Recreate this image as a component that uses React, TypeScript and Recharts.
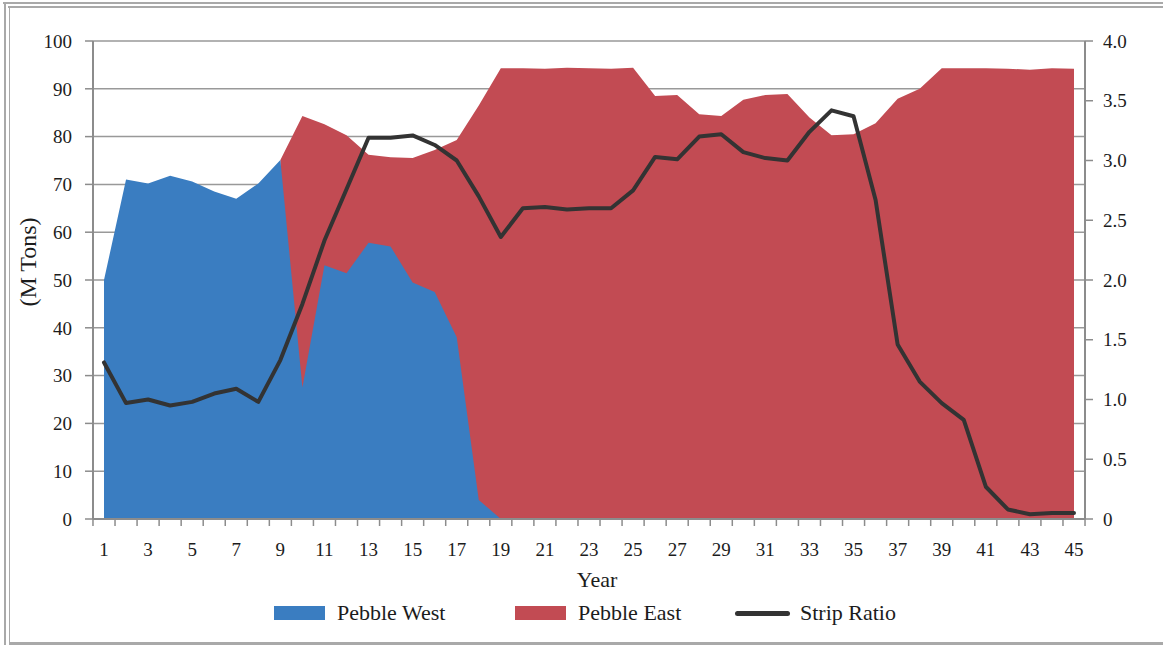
import React from 'react';
import { ComposedChart, Area, Line, XAxis, YAxis, CartesianGrid } from 'recharts';

// Mine plan by year: tonnage per pit (left axis) and strip ratio (right axis)
const years = [
  1, 2, 3, 4, 5, 6, 7, 8, 9, 10, 11, 12, 13, 14, 15, 16, 17, 18, 19, 20, 21, 22, 23,
  24, 25, 26, 27, 28, 29, 30, 31, 32, 33, 34, 35, 36, 37, 38, 39, 40, 41, 42, 43, 44, 45,
];

const pebbleWest = [
  50, 71, 70.2, 71.8, 70.6, 68.5, 67, 70.2, 75.1, 27.5, 53.1, 51.4, 57.8, 57, 49.5, 47.5,
  38, 4, 0, null, null, null, null, null, null, null, null, null, null, null, null, null,
  null, null, null, null, null, null, null, null, null, null, null, null, null,
];

// top edge of the red area
const pebbleEast = [
  null, null, null, null, null, null, null, null, 75.1, 84.3, 82.6, 80.3, 76.2, 75.7,
  75.5, 77.2, 79.3, 86.5, 94.3, 94.3, 94.2, 94.4, 94.3, 94.2, 94.4, 88.5, 88.7, 84.7,
  84.3, 87.7, 88.7, 88.9, 84, 80.3, 80.5, 82.8, 87.9, 90, 94.3, 94.3, 94.3, 94.2, 94,
  94.3, 94.2,
];

const stripRatio = [
  1.31, 0.97, 1.0, 0.95, 0.98, 1.05, 1.09, 0.98, 1.33, 1.8, 2.33, 2.76, 3.19, 3.19, 3.21,
  3.13, 3.0, 2.7, 2.36, 2.6, 2.61, 2.59, 2.6, 2.6, 2.75, 3.03, 3.01, 3.2, 3.22, 3.07,
  3.02, 3.0, 3.24, 3.42, 3.37, 2.67, 1.46, 1.15, 0.97, 0.83, 0.27, 0.08, 0.04, 0.05, 0.05,
];

const tonTicks = [0, 10, 20, 30, 40, 50, 60, 70, 80, 90, 100];
const ratioTicks = [0, 0.5, 1, 1.5, 2, 2.5, 3, 3.5, 4];

const data = years.map((year, i) => ({
  year,
  west: pebbleWest[i],
  east: pebbleEast[i],
  ratio: stripRatio[i],
}));

const FONT = '"Liberation Serif", "DejaVu Serif", serif';
const BLUE = '#3a7dc1';
const RED = '#c24b53';
const LINE = '#333333';
const AXIS = '#8c8c8c';
const TEXT = '#1c1c1c';

const W = 1163;
const H = 645;
const PLOT_LEFT = 93;
const PLOT_RIGHT = 1085;
const PLOT_TOP = 41;
const PLOT_BOTTOM = 519;
const Y_AXIS_W = 60;
const X_AXIS_H = 70;
const X_PAD = 11;
const HALF_STEP = (PLOT_RIGHT - PLOT_LEFT - 2 * X_PAD) / (years.length - 1) / 2;

// Excel-style ticks: marks between categories, labels on odd years only
function YearTick({ x, y, payload }: any) {
  const last = payload.value === years[years.length - 1];
  return (
    <g>
      <line x1={x - HALF_STEP} x2={x - HALF_STEP} y1={y} y2={y + 7} stroke={AXIS} strokeWidth={1.5} />
      {last && (
        <line x1={x + HALF_STEP} x2={x + HALF_STEP} y1={y} y2={y + 7} stroke={AXIS} strokeWidth={1.5} />
      )}
      {payload.value % 2 === 1 && (
        <text x={x} y={y + 37} textAnchor="middle" fill={TEXT} fontSize={19} fontFamily={FONT}>
          {payload.value}
        </text>
      )}
    </g>
  );
}

function TonsTitle() {
  const cx = 28;
  const cy = 262;
  return (
    <text
      x={cx}
      y={cy}
      transform={`rotate(-90, ${cx}, ${cy})`}
      textAnchor="middle"
      dominantBaseline="central"
      fill={TEXT}
      fontSize={24}
      fontFamily={FONT}
    >
      (M Tons)
    </text>
  );
}

function YearTitle() {
  return (
    <text x={597} y={587} textAnchor="middle" fill={TEXT} fontSize={22} fontFamily={FONT}>
      Year
    </text>
  );
}

const legendItems = [
  { label: 'Pebble West', color: BLUE, kind: 'box', left: 274 },
  { label: 'Pebble East', color: RED, kind: 'box', left: 515 },
  { label: 'Strip Ratio', color: LINE, kind: 'line', left: 735 },
];

export default function App() {
  return (
    <div style={{ position: 'absolute', left: 0, top: 0, width: W, height: H, background: '#fff', overflow: 'hidden' }}>
      {/* page frame */}
      <div style={{ position: 'absolute', left: 3, top: 2, width: W, height: 2, background: '#a9a9a9' }} />
      <div style={{ position: 'absolute', left: 8, top: 6, width: W, height: 1.5, background: '#a9a9a9' }} />
      <div style={{ position: 'absolute', left: 4, top: 2, width: 2, height: H, background: '#a9a9a9' }} />
      <div style={{ position: 'absolute', left: 8.5, top: 6, width: 1.5, height: H, background: '#a9a9a9' }} />
      <div style={{ position: 'absolute', left: 8.5, top: 642, width: W, height: 3, background: '#a9a9a9' }} />

      <div style={{ position: 'absolute', left: 0, top: 0 }}>
        <ComposedChart
          width={W}
          height={H}
          data={data}
          margin={{
            top: PLOT_TOP,
            right: W - PLOT_RIGHT - Y_AXIS_W,
            bottom: H - PLOT_BOTTOM - X_AXIS_H,
            left: PLOT_LEFT - Y_AXIS_W,
          }}
        >
          <CartesianGrid yAxisId="tons" vertical={false} stroke="#999999" strokeWidth={1.5} />
          <XAxis
            dataKey="year"
            type="category"
            height={X_AXIS_H}
            padding={{ left: X_PAD, right: X_PAD }}
            interval={0}
            tickSize={0}
            tickMargin={0}
            tickLine={false}
            tick={<YearTick />}
            axisLine={{ stroke: AXIS, strokeWidth: 2 }}
            label={<YearTitle />}
          />
          <YAxis
            yAxisId="tons"
            width={Y_AXIS_W}
            domain={[0, 100]}
            ticks={tonTicks}
            interval={0}
            tickSize={8}
            tickMargin={13}
            tick={{ fill: TEXT, fontSize: 19, fontFamily: FONT }}
            tickLine={{ stroke: AXIS, strokeWidth: 1.5 }}
            axisLine={{ stroke: AXIS, strokeWidth: 2 }}
            label={<TonsTitle />}
          />
          <YAxis
            yAxisId="ratio"
            orientation="right"
            width={Y_AXIS_W}
            domain={[0, 4]}
            ticks={ratioTicks}
            interval={0}
            tickSize={8}
            tickMargin={10}
            tickFormatter={(v: number) => (v === 0 ? '0' : v.toFixed(1))}
            tick={{ fill: TEXT, fontSize: 19, fontFamily: FONT }}
            tickLine={{ stroke: AXIS, strokeWidth: 1.5 }}
            axisLine={{ stroke: AXIS, strokeWidth: 2 }}
          />
          <Area
            yAxisId="tons"
            type="linear"
            dataKey="east"
            name="Pebble East"
            fill={RED}
            fillOpacity={1}
            stroke="none"
            isAnimationActive={false}
          />
          <Area
            yAxisId="tons"
            type="linear"
            dataKey="west"
            name="Pebble West"
            fill={BLUE}
            fillOpacity={1}
            stroke="none"
            isAnimationActive={false}
          />
          <Line
            yAxisId="ratio"
            type="linear"
            dataKey="ratio"
            name="Strip Ratio"
            stroke={LINE}
            strokeWidth={4}
            strokeLinejoin="round"
            strokeLinecap="round"
            dot={false}
            activeDot={false}
            isAnimationActive={false}
          />
        </ComposedChart>
      </div>

      {/* legend */}
      {legendItems.map((item) => (
        <div
          key={item.label}
          style={{ position: 'absolute', left: item.left, top: 598, height: 30, display: 'flex', alignItems: 'center' }}
        >
          {item.kind === 'box' ? (
            <div style={{ width: 51, height: 14, background: item.color }} />
          ) : (
            <div style={{ width: 55, height: 5, borderRadius: 3, background: item.color }} />
          )}
          <span
            style={{
              marginLeft: item.kind === 'box' ? 12 : 10,
              fontFamily: FONT,
              fontSize: 22,
              color: TEXT,
              whiteSpace: 'nowrap',
            }}
          >
            {item.label}
          </span>
        </div>
      ))}
    </div>
  );
}
